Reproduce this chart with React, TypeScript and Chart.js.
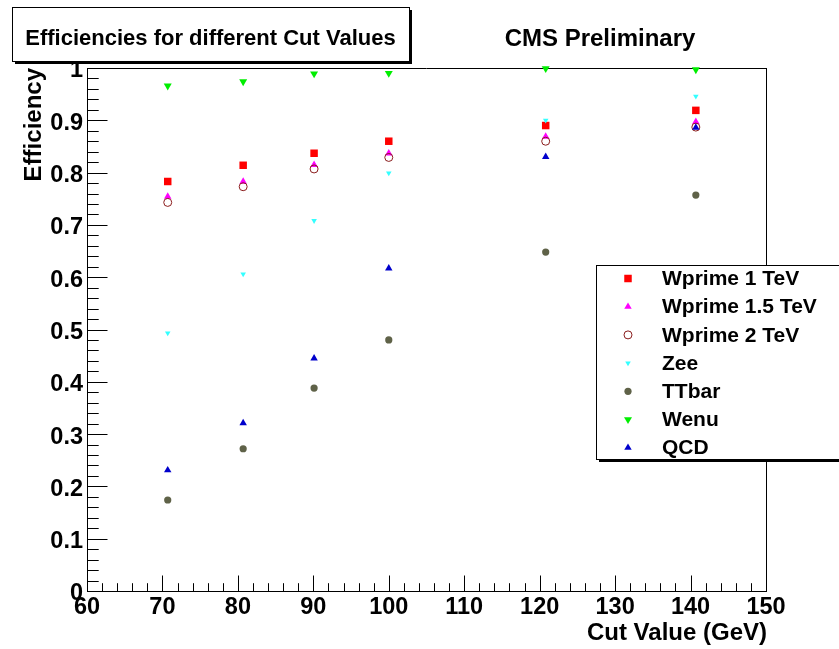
import React, { useEffect, useRef } from 'react';
import { Chart, registerables } from 'chart.js';

Chart.register(...registerables);

// ---- Data ----
const cutValues = [70.7, 80.7, 90.1, 100, 120.8, 140.7];
const wprime1TeV = [0.783, 0.814, 0.837, 0.86, 0.89, 0.919];
const wprime15TeV = [0.754, 0.783, 0.815, 0.837, 0.869, 0.897];
const wprime2TeV = [0.743, 0.773, 0.807, 0.829, 0.86, 0.887];
const zee = [0.493, 0.606, 0.708, 0.799, 0.9, 0.946];
const ttbar = [0.174, 0.272, 0.388, 0.48, 0.648, 0.757];
const wenu = [0.966, 0.974, 0.989, 0.99, 0.999, 0.997];
const qcd = [0.231, 0.321, 0.445, 0.617, 0.83, 0.886];

const seriesNames = ['Wprime 1 TeV', 'Wprime 1.5 TeV', 'Wprime 2 TeV', 'Zee', 'TTbar', 'Wenu', 'QCD'];
const seriesValues = [wprime1TeV, wprime15TeV, wprime2TeV, zee, ttbar, wenu, qcd];

const xMin = 60;
const xMax = 150;
const xStep = 10;
const yMin = 0;
const yMax = 1;
const yStep = 0.1;

const chartTitle = 'Efficiencies for different Cut Values';
const cmsLabel = 'CMS Preliminary';
const xTitle = 'Cut Value (GeV)';
const yTitle = 'Efficiency';

// ---- Styles ----
type MarkerStyle = {
  pointStyle: string;
  radius: number;
  rotation: number;
  fill: string;
  stroke: string;
  borderWidth: number;
};

const markerStyles: MarkerStyle[] = [
  { pointStyle: 'rect', radius: 5.3, rotation: 0, fill: '#ff0000', stroke: '#ff0000', borderWidth: 0 },
  { pointStyle: 'triangle', radius: 4.3, rotation: 0, fill: '#ff00ff', stroke: '#ff00ff', borderWidth: 0 },
  { pointStyle: 'circle', radius: 4, rotation: 0, fill: 'rgba(255,255,255,0)', stroke: '#8a1c1c', borderWidth: 1 },
  { pointStyle: 'triangle', radius: 3.2, rotation: 180, fill: '#33ffff', stroke: '#33ffff', borderWidth: 0 },
  { pointStyle: 'circle', radius: 3.6, rotation: 0, fill: '#5f6248', stroke: '#5f6248', borderWidth: 0 },
  { pointStyle: 'triangle', radius: 4.6, rotation: 180, fill: '#00ee00', stroke: '#00ee00', borderWidth: 0 },
  { pointStyle: 'triangle', radius: 4.3, rotation: 0, fill: '#0000cc', stroke: '#0000cc', borderWidth: 0 },
];

const FONT = '"Liberation Sans", Arial, Helvetica, sans-serif';

function drawMarker(ctx: CanvasRenderingContext2D, m: MarkerStyle, x: number, y: number) {
  const r = m.radius;
  const rad = (m.rotation * Math.PI) / 180;
  ctx.save();
  ctx.fillStyle = m.fill;
  ctx.strokeStyle = m.stroke;
  ctx.lineWidth = m.borderWidth;
  ctx.beginPath();
  if (m.pointStyle === 'rect') {
    const s = r * Math.SQRT1_2;
    ctx.rect(x - s, y - s, 2 * s, 2 * s);
  } else if (m.pointStyle === 'triangle') {
    let a = rad;
    ctx.moveTo(x + Math.sin(a) * r, y - Math.cos(a) * r);
    a += (2 * Math.PI) / 3;
    ctx.lineTo(x + Math.sin(a) * r, y - Math.cos(a) * r);
    a += (2 * Math.PI) / 3;
    ctx.lineTo(x + Math.sin(a) * r, y - Math.cos(a) * r);
    ctx.closePath();
  } else {
    ctx.arc(x, y, r, 0, Math.PI * 2);
  }
  ctx.fill();
  if (m.borderWidth > 0) ctx.stroke();
  ctx.restore();
}

const rootPlugin = {
  id: 'rootStyle',
  beforeDatasetsDraw(chart: any) {
    const ctx: CanvasRenderingContext2D = chart.ctx;
    const { left, right, top, bottom } = chart.chartArea;
    const xs = chart.scales.x;
    const ys = chart.scales.y;
    ctx.save();
    ctx.strokeStyle = '#000';
    ctx.lineWidth = 1;
    // frame top & right
    ctx.beginPath();
    ctx.moveTo(left, Math.round(top) + 0.5);
    ctx.lineTo(right, Math.round(top) + 0.5);
    ctx.moveTo(Math.round(right) + 0.5, top);
    ctx.lineTo(Math.round(right) + 0.5, bottom);
    ctx.stroke();
    // x ticks (inside)
    ctx.beginPath();
    const xMinorStep = xStep / 5;
    for (let i = 0; i <= Math.round((xMax - xMin) / xMinorStep); i++) {
      const v = xMin + i * xMinorStep;
      const px = Math.round(xs.getPixelForValue(v)) + 0.5;
      const len = i % 5 === 0 ? 15.5 : 7.8;
      ctx.moveTo(px, bottom);
      ctx.lineTo(px, bottom - len);
    }
    // y ticks (inside)
    const yMinorStep = yStep / 5;
    for (let i = 0; i <= Math.round((yMax - yMin) / yMinorStep); i++) {
      const v = yMin + i * yMinorStep;
      const py = Math.round(ys.getPixelForValue(v)) + 0.5;
      const len = i % 5 === 0 ? 20.5 : 11.7;
      ctx.moveTo(left, py);
      ctx.lineTo(left + len, py);
    }
    ctx.stroke();
    ctx.restore();
  },
  afterDraw(chart: any) {
    const ctx: CanvasRenderingContext2D = chart.ctx;
    const { right, top } = chart.chartArea;
    ctx.save();

    // Title box with shadow
    const tb = { x: 12, y: 7, w: 397, h: 54 };
    ctx.fillStyle = '#000';
    ctx.fillRect(tb.x + 3, tb.y + 3, tb.w, tb.h);
    ctx.fillStyle = '#fff';
    ctx.fillRect(tb.x, tb.y, tb.w, tb.h);
    ctx.strokeStyle = '#000';
    ctx.lineWidth = 1;
    ctx.strokeRect(tb.x + 0.5, tb.y + 0.5, tb.w, tb.h);
    ctx.fillStyle = '#000';
    ctx.font = `bold 22px ${FONT}`;
    ctx.textAlign = 'center';
    ctx.textBaseline = 'middle';
    ctx.fillText(chartTitle, tb.x + tb.w / 2, 39);

    // CMS Preliminary
    ctx.font = `bold 24px ${FONT}`;
    ctx.fillText(cmsLabel, 600, 39);

    // Axis titles
    ctx.font = `bold 24px ${FONT}`;
    ctx.textAlign = 'right';
    ctx.fillText(xTitle, right + 1, 633);
    ctx.save();
    ctx.translate(34, top);
    ctx.rotate(-Math.PI / 2);
    ctx.textAlign = 'right';
    ctx.textBaseline = 'middle';
    ctx.fillText(yTitle, 0, 0);
    ctx.restore();

    // Legend box with shadow
    const lb = { x: 596, y: 265, w: 260, h: 194 };
    ctx.fillStyle = '#000';
    ctx.fillRect(lb.x + 3, lb.y + 3, lb.w, lb.h);
    ctx.fillStyle = '#fff';
    ctx.fillRect(lb.x, lb.y, lb.w, lb.h);
    ctx.strokeStyle = '#000';
    ctx.strokeRect(lb.x + 0.5, lb.y + 0.5, lb.w, lb.h);

    ctx.font = `bold 21px ${FONT}`;
    ctx.textAlign = 'left';
    ctx.textBaseline = 'middle';
    seriesNames.forEach((name, i) => {
      const y = 278.5 + i * 28.2;
      drawMarker(ctx, markerStyles[i], 628, y);
      ctx.fillStyle = '#000';
      ctx.fillText(name, 662, y + 1);
    });

    ctx.restore();
  },
};

export default function App() {
  const canvasRef = useRef<HTMLCanvasElement | null>(null);

  useEffect(() => {
    document.body.style.margin = '0';
    const canvas = canvasRef.current;
    if (!canvas) return;

    const datasets = seriesNames.map((name, i) => {
      const m = markerStyles[i];
      return {
        label: name,
        data: cutValues.map((x, j) => ({ x, y: seriesValues[i][j] })),
        pointStyle: m.pointStyle,
        pointRadius: m.radius,
        pointRotation: m.rotation,
        pointBackgroundColor: m.fill,
        pointBorderColor: m.stroke,
        pointBorderWidth: m.borderWidth,
        showLine: false,
        clip: false as any,
        order: seriesNames.length - i,
      };
    });

    const tickFont = { family: FONT, size: 23.5, weight: 'bold' as const };

    const chart = new Chart(canvas, {
      type: 'scatter',
      data: { datasets: datasets as any },
      options: {
        responsive: false,
        animation: false,
        devicePixelRatio: 1,
        layout: { padding: { top: 68, right: 73, left: 0, bottom: 0 } },
        plugins: {
          legend: { display: false },
          tooltip: { enabled: false },
          title: { display: false },
        },
        scales: {
          x: {
            type: 'linear',
            min: xMin,
            max: xMax,
            grid: { display: false, drawTicks: false, tickLength: 0 },
            border: { display: true, color: '#000', width: 1 },
            ticks: {
              stepSize: xStep,
              color: '#000',
              font: tickFont,
              padding: 2,
              maxRotation: 0,
              autoSkip: false,
              callback: (v: any) => String(Math.round(Number(v))),
            },
            afterFit: (s: any) => {
              s.height = 58;
            },
          },
          y: {
            type: 'linear',
            min: yMin,
            max: yMax,
            grid: { display: false, drawTicks: false, tickLength: 0 },
            border: { display: true, color: '#000', width: 1 },
            ticks: {
              stepSize: yStep,
              color: '#000',
              font: tickFont,
              padding: 4,
              labelOffset: 3,
              autoSkip: false,
              callback: (v: any) => {
                const n = Number(v);
                if (Math.abs(n) < 1e-9) return '0';
                if (Math.abs(n - 1) < 1e-9) return '1';
                return n.toFixed(1);
              },
            },
            afterFit: (s: any) => {
              s.width = 87;
            },
          },
        },
      },
      plugins: [rootPlugin],
    });

    return () => {
      chart.destroy();
    };
  }, []);

  return (
    <canvas
      ref={canvasRef}
      width={839}
      height={649}
      style={{ display: 'block', width: '839px', height: '649px' }}
    />
  );
}
